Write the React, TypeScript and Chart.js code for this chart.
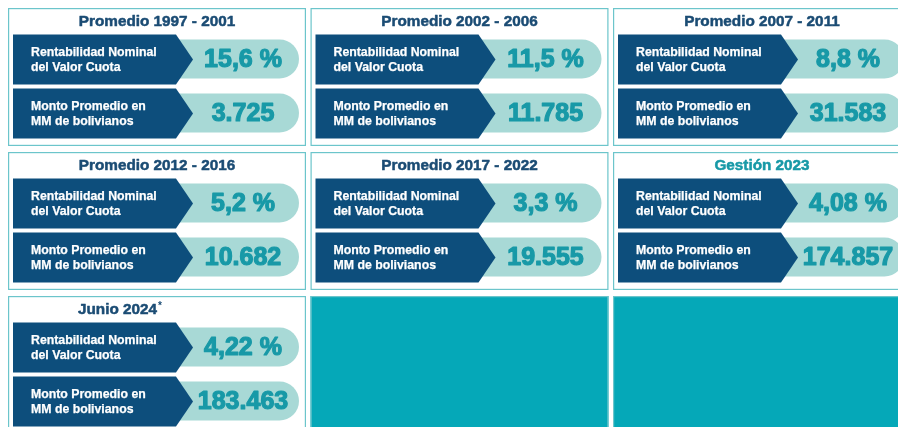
import React, { useEffect, useRef } from "react";
import { Chart, registerables } from "chart.js";

Chart.register(...registerables);

// ---- data ----
const periodTitles = [
  "Promedio 1997 - 2001",
  "Promedio 2002 - 2006",
  "Promedio 2007 - 2011",
  "Promedio 2012 - 2016",
  "Promedio 2017 - 2022",
  "Gestión 2023",
  "Junio 2024*",
];
const rentabilidadNominal = [15.6, 11.5, 8.8, 5.2, 3.3, 4.08, 4.22];
const rentabilidadDecimals = [1, 1, 1, 1, 1, 2, 2];
const montoPromedio = [3725, 11785, 31583, 10682, 19555, 174857, 183463];
const highlightedTitles = ["Gestión 2023"];
const rowLabels = [
  ["Rentabilidad Nominal", "del Valor Cuota"],
  ["Monto Promedio en", "MM de bolivianos"],
];
const emptyCells = 2;
const COLS = 3;

// ---- styles ----
const DARK = "#0d4e7c";
const PILL = "#a8d9d6";
const TEAL_TEXT = "#1899a7";
const TITLE = "#1b4c74";
const BORDER = "#6cc5cb";
const BLOCK = "#05a8b8";
const FONT = '"Liberation Sans", Arial, sans-serif';

function fmtPct(v: number, d: number) {
  return v.toFixed(d).replace(".", ",") + " %";
}
function fmtThousands(v: number) {
  return String(Math.round(v)).replace(/\B(?=(\d{3})+(?!\d))/g, ".");
}

function heavyText(ctx: CanvasRenderingContext2D, s: string, x: number, y: number, stroke: number) {
  ctx.fillText(s, x, y);
  if (stroke > 0) {
    ctx.lineWidth = stroke;
    ctx.lineJoin = "round";
    ctx.strokeStyle = ctx.fillStyle as string;
    ctx.strokeText(s, x, y);
  }
}

const cardsPlugin = {
  id: "cards",
  afterDatasetsDraw(chart: any) {
    const ctx = chart.ctx as CanvasRenderingContext2D;
    const xs = chart.scales.x;
    const ys = chart.scales.y;
    const pitchX = xs.getPixelForValue(1) - xs.getPixelForValue(0);
    const pitchY = ys.getPixelForValue(1) - ys.getPixelForValue(0);
    const W = pitchX - 4.5;
    const H = pitchY - 6;

    // empty teal blocks
    chart.getDatasetMeta(1).data.forEach((pt: any) => {
      const L = pt.x - pitchX / 2;
      const T = pt.y - pitchY / 2;
      ctx.save();
      ctx.fillStyle = BLOCK;
      ctx.fillRect(L, T, W, H + 10);
      ctx.strokeStyle = BORDER;
      ctx.lineWidth = 1.2;
      ctx.strokeRect(L + 0.6, T + 0.6, W - 1.2, H + 10);
      ctx.restore();
    });

    chart.getDatasetMeta(0).data.forEach((pt: any, i: number) => {
      const L = pt.x - pitchX / 2;
      const T = pt.y - pitchY / 2;
      ctx.save();
      // card border
      ctx.fillStyle = "#ffffff";
      ctx.fillRect(L, T, W, H);
      ctx.strokeStyle = BORDER;
      ctx.lineWidth = 1.2;
      ctx.strokeRect(L + 0.6, T + 0.6, W - 1.2, H - 1.2);

      // title
      const title = periodTitles[i];
      ctx.fillStyle = highlightedTitles.includes(title) ? TEAL_TEXT : TITLE;
      ctx.textBaseline = "middle";
      ctx.font = `bold 15.3px ${FONT}`;
      if (title.endsWith("*")) {
        const main = title.slice(0, -1);
        ctx.textAlign = "left";
        heavyText(ctx, main, L + 70, T + 13.5, 0.5);
        const w = ctx.measureText(main).width;
        ctx.font = `bold 10px ${FONT}`;
        ctx.fillText("*", L + 70 + w + 1, T + 10);
      } else {
        ctx.textAlign = "center";
        heavyText(ctx, title, L + W / 2, T + 13.5, 0.5);
      }

      const values = [
        fmtPct(rentabilidadNominal[i], rentabilidadDecimals[i]),
        fmtThousands(montoPromedio[i]),
      ];

      for (let k = 0; k < 2; k++) {
        const top = T + 26.5 + k * 54;
        const h = 50;
        const mid = top + h / 2;
        // pill
        const pTop = top + 5;
        const pBot = top + 44;
        const r = (pBot - pTop) / 2;
        const pRight = L + W - 7;
        ctx.fillStyle = PILL;
        ctx.beginPath();
        ctx.moveTo(L + 150, pTop);
        ctx.lineTo(pRight - r, pTop);
        ctx.arc(pRight - r, pTop + r, r, -Math.PI / 2, Math.PI / 2);
        ctx.lineTo(L + 150, pBot);
        ctx.closePath();
        ctx.fill();
        // arrow box
        ctx.fillStyle = DARK;
        ctx.beginPath();
        ctx.moveTo(L + 5, top);
        ctx.lineTo(L + 168, top);
        ctx.lineTo(L + 185, mid);
        ctx.lineTo(L + 168, top + h);
        ctx.lineTo(L + 5, top + h);
        ctx.closePath();
        ctx.fill();
        // labels
        ctx.fillStyle = "#ffffff";
        ctx.font = `bold 12.3px ${FONT}`;
        ctx.textAlign = "left";
        ctx.textBaseline = "middle";
        heavyText(ctx, rowLabels[k][0], L + 23, mid - 7, 0.25);
        heavyText(ctx, rowLabels[k][1], L + 23, mid + 8, 0.25);
        // value
        ctx.fillStyle = TEAL_TEXT;
        ctx.font = `bold 25px ${FONT}`;
        ctx.textAlign = "center";
        heavyText(ctx, values[k], L + 235, mid + 1, 1.2);
      }
      ctx.restore();
    });
  },
};

export default function App() {
  const ref = useRef<HTMLCanvasElement>(null);
  useEffect(() => {
    if (!ref.current) return;
    const cardPoints = periodTitles.map((_, i) => ({ x: i % COLS, y: Math.floor(i / COLS) }));
    const emptyPoints = Array.from({ length: emptyCells }, (_, j) => {
      const i = periodTitles.length + j;
      return { x: i % COLS, y: Math.floor(i / COLS) };
    });
    const chart = new Chart(ref.current, {
      type: "scatter",
      data: {
        datasets: [
          { data: cardPoints, pointRadius: 0 },
          { data: emptyPoints, pointRadius: 0 },
        ],
      },
      options: {
        animation: false,
        responsive: false,
        layout: { padding: { left: 8, top: 8, right: 0, bottom: 0 } },
        plugins: { legend: { display: false }, tooltip: { enabled: false } },
        scales: {
          x: { type: "linear", display: false, min: -0.5, max: -0.5 + 890 / 302.5 },
          y: { type: "linear", display: false, reverse: true, min: -0.5, max: -0.5 + 419 / 144 },
        },
      },
      plugins: [cardsPlugin],
    });
    return () => chart.destroy();
  }, []);
  return (
    <div style={{ position: "fixed", left: 0, top: 0, width: 898, height: 427, background: "#ffffff" }}>
      <canvas ref={ref} width={898} height={427} style={{ display: "block", width: 898, height: 427 }} />
    </div>
  );
}
